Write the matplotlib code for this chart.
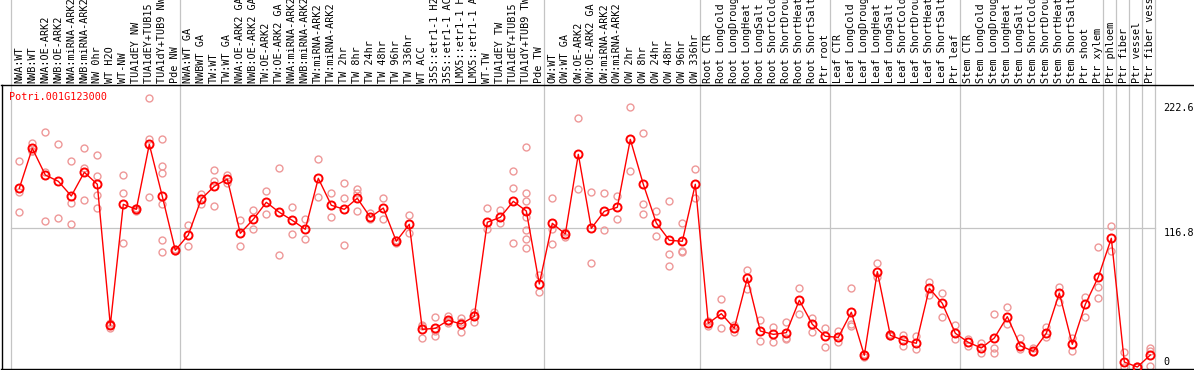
import matplotlib
matplotlib.use('Agg')
import matplotlib.pyplot as plt

gen = 'Potri.001G123000'

muestras = [
	'NWA:WT', 'NWB:WT', 'NWA:OE-ARK2', 'NWB:OE-ARK2', 'NWA:miRNA-ARK2', 'NWB:miRNA-ARK2',
	'NW 0hr', 'WT H2O', 'WT-NW', 'TUA1dEY NW', 'TUA1dEY+TUB15 NW', 'TUA1dY+TUB9 NW', 'Pde NW',
	'NWA:WT GA', 'NWBWT GA', 'TW:WT', 'TW:WT GA', 'NWA:OE-ARK2 GA', 'NWB:OE-ARK2 GA',
	'TW:OE-ARK2', 'TW:OE-ARK2 GA', 'NWA:miRNA-ARK2 GA', 'NWB:miRNA-ARK2 GA', 'TW:miRNA-ARK2',
	'TW:miRNA-ARK2 GA', 'TW 2hr', 'TW 8hr', 'TW 24hr', 'TW 48hr', 'TW 96hr', 'TW 336hr',
	'WT ACC', '35S::etr1-1 H2O', '35S::etr1-1 ACC', 'LMX5::etr1-1 H2O', 'LMX5::etr1-1 ACC',
	'WT-TW', 'TUA1dEY TW', 'TUA1dEY+TUB15 TW', 'TUA1dY+TUB9 TW', 'Pde TW',
	'OW:WT', 'OW:WT GA', 'OW:OE-ARK2', 'OW:OE-ARK2 GA', 'OW:miRNA-ARK2', 'OW:miRNA-ARK2 GA',
	'OW 2hr', 'OW 8hr', 'OW 24hr', 'OW 48hr', 'OW 96hr', 'OW 336hr',
	'Root CTR', 'Root LongCold', 'Root LongDrought', 'Root LongHeat', 'Root LongSalt',
	'Root ShortCold', 'Root ShortDrought', 'Root ShortHeat', 'Root ShortSalt', 'Ptr root',
	'Leaf CTR', 'Leaf LongCold', 'Leaf LongDrought', 'Leaf LongHeat', 'Leaf LongSalt',
	'Leaf ShortCold', 'Leaf ShortDrought', 'Leaf ShortHeat', 'Leaf ShortSalt', 'Ptr leaf',
	'Stem CTR', 'Stem LongCold', 'Stem LongDrought', 'Stem LongHeat', 'Stem LongSalt',
	'Stem ShortCold', 'Stem ShortDrought', 'Stem ShortHeat', 'Stem ShortSalt', 'Ptr shoot',
	'Ptr xylem', 'Ptr phloem', 'Ptr fiber', 'Ptr vessel', 'Ptr fiber vessel',
]

medias = [
	150.5, 184.2, 161.7, 156.4, 144.0, 164.0, 153.9, 35.1, 137.0, 132.8, 187.5, 143.7, 98.3,
	111.2, 141.5, 152.2, 158.3, 112.6, 124.4, 138.7, 130.3, 123.5, 116.0, 158.9, 136.2, 132.8,
	142.1, 126.1, 133.9, 105.9, 120.2, 31.7, 32.6, 39.3, 36.2, 42.7, 121.9, 126.1, 139.5, 131.4, 69.9,
	121.0, 112.0, 179.1, 116.8, 131.1, 134.5, 191.7, 153.9, 121.3, 106.7, 105.9, 153.9,
	36.8, 44.9, 32.6, 74.9, 30.3, 27.5, 28.9, 56.2, 36.0, 25.9,
	25.0, 46.1, 9.9, 80.3, 26.7, 22.5, 20.0, 66.3, 53.6, 28.4,
	20.8, 16.0, 24.4, 42.4, 17.9, 13.2, 28.4, 62.3, 19.1, 52.8, 75.8,
	108.4, 4.2, 0.0, 10.1,
]

replicas = [
	[173.5, 147.6, 130.3], [188.9, 182.1, 181.5], [197.6, 164.5, 122.9], [187.8, 125.2],
	[173.5, 137.9, 120.2], [184.2, 167.8, 140.4], [178.3, 160.6, 144.6, 133.6], [36.8, 35.5, 32.6],
	[161.4, 146.3, 104.2], [134.0, 132.5, 131.6], [226.3, 191.7, 142.9],
	[191.7, 169.3, 163.1, 137.0, 106.7, 96.6], [99.0, 97.5],
	[119.6, 101.6], [145.4, 137.0], [165.9, 156.9, 135.3], [161.7, 154.7], [123.8, 101.6],
	[132.0, 116.0], [148.2, 128.6], [167.3, 94.3], [134.5, 112.3], [124.4, 107.5], [174.9, 142.9],
	[146.3, 126.1], [154.7, 142.1, 102.7], [149.6, 146.3, 131.4], [129.4, 124.4], [142.1, 124.9],
	[106.9, 104.2], [127.7, 112.6], [35.0, 34.5, 24.2], [41.9, 30.0, 25.9], [42.9, 39.0, 36.8],
	[41.3, 37.5, 29.5], [46.1, 44.0, 37.6], [133.6, 116.2], [132.2, 121.5], [165.1, 150.5, 104.2],
	[185.0, 146.3, 140.0, 126.6, 115.4, 107.5, 100.0], [77.5, 63.2],
	[142.1, 116.2, 103.6], [113.9, 109.7], [209.4, 149.6], [147.1, 87.3], [146.3, 115.1],
	[144.0, 124.4], [218.7, 164.8], [196.8, 137.0, 128.6], [131.1, 110.1], [139.8, 94.9, 84.8],
	[121.0, 97.9, 96.6], [166.5, 142.1],
	[39.0, 34.5], [57.0, 32.6], [35.4, 29.7], [81.4, 65.7], [39.6, 22.1], [33.9, 20.8],
	[37.6, 24.7, 23.3], [66.3, 44.4], [41.0, 29.2], [32.6, 16.8],
	[30.6, 20.8], [66.3, 36.5, 34.8], [10.9, 8.4], [87.3, 75.5], [27.8, 25.9], [26.9, 17.9],
	[26.1, 15.4], [71.8, 60.6], [62.1, 41.9], [35.4, 23.3],
	[23.8, 17.9], [20.0, 12.0], [44.4, 16.3, 12.0], [50.3, 36.5], [24.4, 14.9], [15.7, 12.6],
	[33.9, 25.5], [67.1, 55.0], [24.7, 13.2], [58.7, 42.4], [101.3, 67.6, 58.4],
	[118.7, 97.9], [12.6, 0.3], [0.5, 0.0], [16.3, 13.7, 0.8],
]

# ultima muestra de cada grupo
fin_grupos = [12, 40, 52, 62, 72, 83, 84, 85, 86, 87]
marcas_y = [222.6, 116.8, 0]

fuente = 'DejaVu Sans Mono'
gris = '#c4c4c4'

fig = plt.figure(figsize=(11.94, 3.70), dpi=100)
ax = fig.add_axes([1.5 / 1194, 1 / 370, 1 - 1.5 / 1194, 284 / 370])
ax.set_xlim(-1.369, 90.36)
ax.set_ylim(-1.68, 237.5)
ax.set_xticks([])
ax.set_yticks([])
ax.spines['right'].set_visible(False)
for s in ['top', 'left', 'bottom']:
	ax.spines[s].set_color('black')
	ax.spines[s].set_linewidth(1.0)

# separadores de grupos (suben hasta el borde de la figura)
ax.axvline(-0.66, ymin=0, ymax=1.4, color=gris, lw=0.9, clip_on=False, zorder=1)
for g in fin_grupos:
	ax.axvline(g + 0.385, ymin=0, ymax=1.4, color=gris, lw=0.9, clip_on=False, zorder=1)
ax.plot([-0.66, fin_grupos[-1] + 0.385], [marcas_y[1], marcas_y[1]], color=gris, lw=0.9, zorder=1)

# replicas
for i, reps in enumerate(replicas):
	ax.plot([i] * len(reps), reps, 'o', mfc='none', mec='#ee9898', ms=5, mew=1.0, zorder=2)

x = list(range(len(medias)))
ax.plot(x, medias, '-', color='red', lw=1.0, zorder=3)
ax.plot(x, medias, 'o', mfc='none', mec='red', ms=5.8, mew=1.4, zorder=4)

# nombres de muestras arriba
tr = ax.get_xaxis_transform()
for i, m in enumerate(muestras):
	ax.text(i, 1.006, m, rotation=90, ha='center', va='bottom', transform=tr,
			fontsize=7.3, family=fuente, clip_on=False)

ax.text(0.0065, 0.959, gen, color='red', fontsize=7.3, family=fuente,
		ha='left', va='center', transform=ax.transAxes)

for v in marcas_y:
	if v == 0:
		ax.text(88.0, v, '0', fontsize=7.3, family=fuente, ha='left', va='bottom')
	else:
		ax.text(88.0, v, str(v), fontsize=7.3, family=fuente, ha='left', va='top')

fig.savefig('out.png', dpi=100)
